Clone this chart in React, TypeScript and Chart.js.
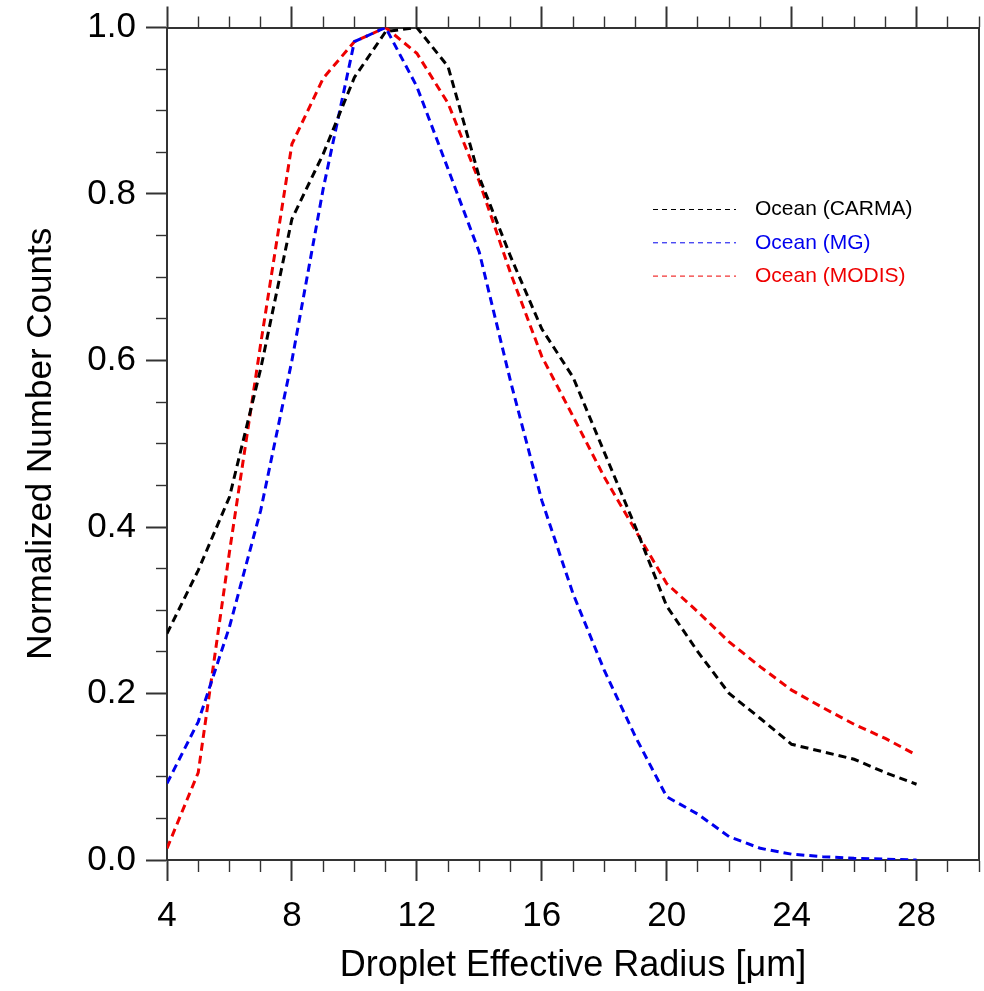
import React, { useEffect, useRef } from 'react';
import { Chart, registerables } from 'chart.js';

Chart.register(...registerables);

// ---- data ----
const radius = [4, 5, 6, 7, 8, 9, 10, 11, 12, 13, 14, 15, 16, 17, 18, 19, 20, 21, 22, 23, 24, 25, 26, 27, 28];
const oceanCarma = [0.272, 0.348, 0.436, 0.59, 0.77, 0.848, 0.94, 0.995, 1.0, 0.953, 0.82, 0.725, 0.638, 0.58, 0.49, 0.4, 0.305, 0.25, 0.2, 0.17, 0.139, 0.13, 0.121, 0.105, 0.091];
const oceanMg = [0.092, 0.166, 0.28, 0.42, 0.6, 0.806, 0.983, 1.0, 0.929, 0.83, 0.73, 0.575, 0.432, 0.32, 0.228, 0.148, 0.076, 0.055, 0.028, 0.014, 0.007, 0.004, 0.002, 0.001, 0.0];
const oceanModis = [0.014, 0.105, 0.37, 0.62, 0.86, 0.939, 0.983, 1.0, 0.969, 0.909, 0.815, 0.705, 0.605, 0.533, 0.46, 0.396, 0.332, 0.298, 0.262, 0.232, 0.204, 0.183, 0.163, 0.146, 0.126];

const seriesLabels = ['Ocean (CARMA)', 'Ocean (MG)', 'Ocean (MODIS)'];
const seriesColors = ['#000000', '#0000ee', '#ee0000'];

const xMajorTicks = [4, 8, 12, 16, 20, 24, 28];
const xMinorStep = 1;
const yMajorTicks = [0, 0.2, 0.4, 0.6, 0.8, 1.0];
const yMinorStep = 0.05;

const xTitle = 'Droplet Effective Radius [\u03bcm]';
const yTitle = 'Normalized Number Counts';

const FONT = "'Liberation Sans', Arial, Helvetica, sans-serif";
const AXIS_COLOR = '#333333';

const near = (a: number, b: number) => Math.abs(a - b) < 1e-6;
const isXMajor = (v: number) => xMajorTicks.some((m) => near(m, v));
const isYMajor = (v: number) => yMajorTicks.some((m) => near(m, v));

function buildTicks(min: number, max: number, step: number) {
  const out: { value: number }[] = [];
  const n = Math.round((max - min) / step);
  for (let i = 0; i <= n; i++) out.push({ value: Math.round((min + i * step) * 1000) / 1000 });
  return out;
}

const TL = 21; // major tick length
const ML = 11; // minor tick length

// grid tick styles: "outerFirst" axes (left/top) draw the tick from the outer end inward
function tickGrid(isMajor: (v: number) => boolean, outerFirst: boolean) {
  return {
    drawOnChartArea: false,
    drawTicks: true,
    tickLength: TL,
    tickColor: AXIS_COLOR,
    tickWidth: (c: any) => (c.tick && isMajor(c.tick.value) ? 2 : 1.4),
    tickBorderDash: (c: any) => (c.tick && isMajor(c.tick.value) ? [] : outerFirst ? [ML, TL - ML] : [ML, 40]),
    tickBorderDashOffset: (c: any) => (c.tick && isMajor(c.tick.value) ? 0 : outerFirst ? ML : 0),
  };
}

const insideLegend = {
  id: 'insideLegend',
  afterDatasetsDraw(chart: any) {
    const { ctx } = chart;
    ctx.save();
    chart.data.datasets.forEach((ds: any, i: number) => {
      const y = 209.5 + i * 33.3;
      ctx.beginPath();
      ctx.setLineDash([5, 4]);
      ctx.lineWidth = 1;
      ctx.strokeStyle = ds.borderColor;
      ctx.moveTo(653, y);
      ctx.lineTo(736, y);
      ctx.stroke();
      ctx.setLineDash([]);
      ctx.fillStyle = ds.borderColor;
      ctx.font = `21px ${FONT}`;
      ctx.textAlign = 'left';
      ctx.textBaseline = 'middle';
      ctx.fillText(ds.label, 755, y);
    });
    ctx.restore();
  },
};

export default function App() {
  const ref = useRef<HTMLCanvasElement | null>(null);

  useEffect(() => {
    if (!ref.current) return;
    const series = [oceanCarma, oceanMg, oceanModis];
    const chart = new Chart(ref.current, {
      type: 'line',
      data: {
        datasets: series.map((vals, i) => ({
          label: seriesLabels[i],
          data: radius.map((r, j) => ({ x: r, y: vals[j] })),
          borderColor: seriesColors[i],
          backgroundColor: seriesColors[i],
          borderWidth: 3,
          borderDash: [8, 5],
          pointRadius: 0,
          fill: false,
          tension: 0,
          xAxisID: 'x',
          yAxisID: 'y',
        })),
      },
      options: {
        animation: false,
        responsive: false,
        devicePixelRatio: 1,
        events: [],
        layout: { padding: 0 },
        plugins: { legend: { display: false }, tooltip: { enabled: false } },
        scales: {
          x: {
            type: 'linear',
            position: 'bottom',
            min: 4,
            max: 30,
            afterBuildTicks: (s: any) => { s.ticks = buildTicks(4, 30, xMinorStep); },
            afterFit: (s: any) => { s.height = 131; s.paddingLeft = 0; s.paddingRight = 0; },
            ticks: {
              autoSkip: false,
              maxRotation: 0,
              padding: 18,
              color: '#000',
              font: { family: FONT, size: 35, lineHeight: 1 },
              callback: (v: any) => (isXMajor(Number(v)) ? String(v) : ''),
            },
            grid: tickGrid(isXMajor, false),
            border: { display: true, color: AXIS_COLOR, width: 2 },
            title: {
              display: true,
              text: xTitle,
              color: '#000',
              font: { family: FONT, size: 36 },
              padding: { top: 0, bottom: 3 },
            },
          },
          x2: {
            type: 'linear',
            position: 'top',
            min: 4,
            max: 30,
            afterBuildTicks: (s: any) => { s.ticks = buildTicks(4, 30, xMinorStep); },
            afterFit: (s: any) => { s.height = 26; s.paddingLeft = 0; s.paddingRight = 0; },
            ticks: { display: false },
            grid: tickGrid(isXMajor, true),
            border: { display: true, color: AXIS_COLOR, width: 2 },
          },
          y: {
            type: 'linear',
            position: 'left',
            min: 0,
            max: 1,
            afterBuildTicks: (s: any) => { s.ticks = buildTicks(0, 1, yMinorStep); },
            afterFit: (s: any) => { s.width = 167; },
            ticks: {
              autoSkip: false,
              padding: 10,
              color: '#000',
              font: { family: FONT, size: 35, lineHeight: 1 },
              callback: (v: any) => (isYMajor(Number(v)) ? Number(v).toFixed(1) : ''),
            },
            grid: tickGrid(isYMajor, true),
            border: { display: true, color: AXIS_COLOR, width: 2 },
            title: {
              display: true,
              text: yTitle,
              color: '#000',
              font: { family: FONT, size: 35 },
              padding: { top: 20, bottom: 0 },
            },
          },
          y2: {
            type: 'linear',
            position: 'right',
            min: 0,
            max: 1,
            afterFit: (s: any) => { s.width = 5; },
            ticks: { display: false },
            grid: { drawOnChartArea: false, drawTicks: false },
            border: { display: true, color: AXIS_COLOR, width: 2 },
          },
        },
      } as any,
      plugins: [insideLegend],
    });
    return () => chart.destroy();
  }, []);

  return (
    <div style={{ position: 'fixed', left: 0, top: 0, width: 984, height: 991, background: '#fff' }}>
      <canvas ref={ref} width={984} height={991} style={{ width: 984, height: 991, display: 'block' }} />
    </div>
  );
}
